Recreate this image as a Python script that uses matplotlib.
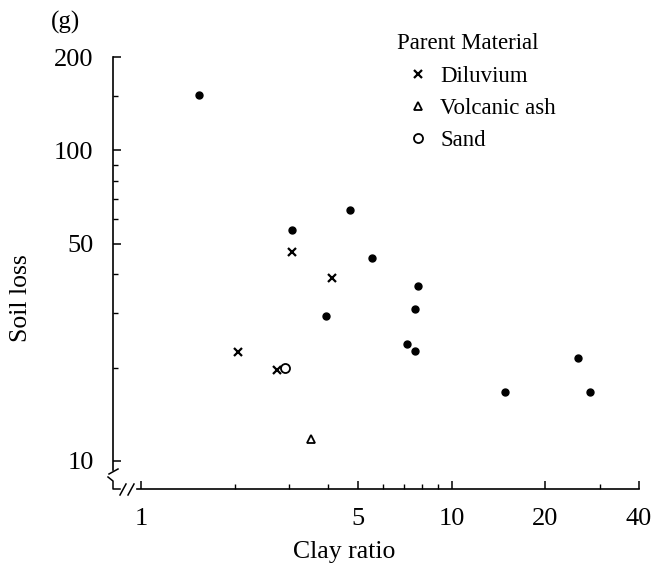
import numpy as np
import matplotlib.pyplot as plt
from matplotlib.ticker import FixedLocator, NullFormatter

plt.rcParams['font.family'] = ['Liberation Serif', 'DejaVu Serif']

# no parent material marked (filled dots)
dot_clay = [1.54, 3.05, 4.70, 5.54, 3.93, 7.79, 7.59, 7.20, 7.60, 25.4, 14.8, 27.9]
dot_loss = [151, 55.5, 64.2, 45.0, 29.2, 36.7, 30.8, 23.8, 22.6, 21.5, 16.7, 16.7]

diluvium_clay = [3.07, 4.13, 2.05, 2.73]
diluvium_loss = [47.0, 38.9, 22.5, 19.6]

volcanic_clay = [3.52]
volcanic_loss = [11.8]

sand_clay = [2.90]
sand_loss = [20.0]

x_major = [1, 5, 10, 20, 40]
x_minor = [2, 3, 4, 6, 7, 8, 9, 30]
y_major = [10, 50, 100, 200]
y_minor = [20, 30, 40, 60, 70, 80, 90, 150]

fig = plt.figure(figsize=(6.52, 5.66), dpi=100)
ax = fig.add_axes([113 / 652, 77 / 566, 526 / 652, 432 / 566])

ax.plot(dot_clay, dot_loss, 'o', color='black', markersize=5, linestyle='none')
ax.plot(diluvium_clay, diluvium_loss, 'x', color='black', markersize=5.5, mew=1.6,
        linestyle='none', label='Diluvium')
ax.plot(volcanic_clay, volcanic_loss, '^', mfc='white', mec='black', markersize=5.5,
        mew=1.3, linestyle='none', label='Volcanic ash')
ax.plot(sand_clay, sand_loss, 'o', mfc='none', mec='black', markersize=6.5, mew=1.3,
        linestyle='none', label='Sand')

ax.set_xscale('log')
ax.set_yscale('log')
ax.set_xlim(10 ** (-28 / 311), 40)
ax.set_ylim(10 ** (1 - 28 / 310.5), 200)

ax.xaxis.set_major_locator(FixedLocator(x_major))
ax.xaxis.set_minor_locator(FixedLocator(x_minor))
ax.yaxis.set_major_locator(FixedLocator(y_major))
ax.yaxis.set_minor_locator(FixedLocator(y_minor))
ax.set_xticklabels([str(v) for v in x_major])
ax.set_yticklabels([str(v) for v in y_major])
ax.xaxis.set_minor_formatter(NullFormatter())
ax.yaxis.set_minor_formatter(NullFormatter())

ax.tick_params(which='major', direction='in', length=6, width=1.1, labelsize=19, pad=14)
ax.tick_params(axis='y', which='major', pad=14)
ax.tick_params(which='minor', direction='in', length=3.5, width=1.0)

for side in ['top', 'right']:
    ax.spines[side].set_visible(False)
ax.spines['bottom'].set_bounds(10 ** (-4 / 311), 40)
ax.spines['left'].set_bounds(10 ** (1 - 9 / 310.5), 200)
ax.spines['bottom'].set_linewidth(1.2)
ax.spines['left'].set_linewidth(1.2)

# axis break marks at the corner (pixel positions -> axes fraction)
def fx(px):
    return (px - 113) / 526

def fy(py):
    return (489 - py) / 432

kw = dict(transform=ax.transAxes, color='black', lw=1.1, clip_on=False)
ax.plot([fx(109), fx(118)], [fy(474), fy(469)], **kw)
ax.plot([fx(108), fx(113), fx(113), fx(120)], [fy(477), fy(481), fy(489), fy(489)], **kw)
ax.plot([fx(120), fx(126)], [fy(495), fy(484)], **kw)
ax.plot([fx(128), fx(134)], [fy(495), fy(484)], **kw)

ax.set_xlabel('Clay ratio', fontsize=18.5)
ax.set_ylabel('Soil loss', fontsize=18.5)
ax.xaxis.set_label_coords((344 - 113) / 526, -(541 - 489) / 432)
ax.yaxis.set_label_coords(-(113 - 32) / 526, (489 - 298) / 432)

leg = ax.legend(title='Parent Material', loc='upper left', bbox_to_anchor=(0.51, 1.093),
                frameon=False, alignment='left', fontsize=16.5, title_fontsize=16.5,
                handlelength=1.83, handletextpad=0.05, labelspacing=0.46, borderpad=0.2)
leg._legend_box.sep = 9

fig.text(65 / 652, 1 - 22 / 566, '(g)', fontsize=18, ha='center', va='center')

fig.savefig('out.png', dpi=100)
